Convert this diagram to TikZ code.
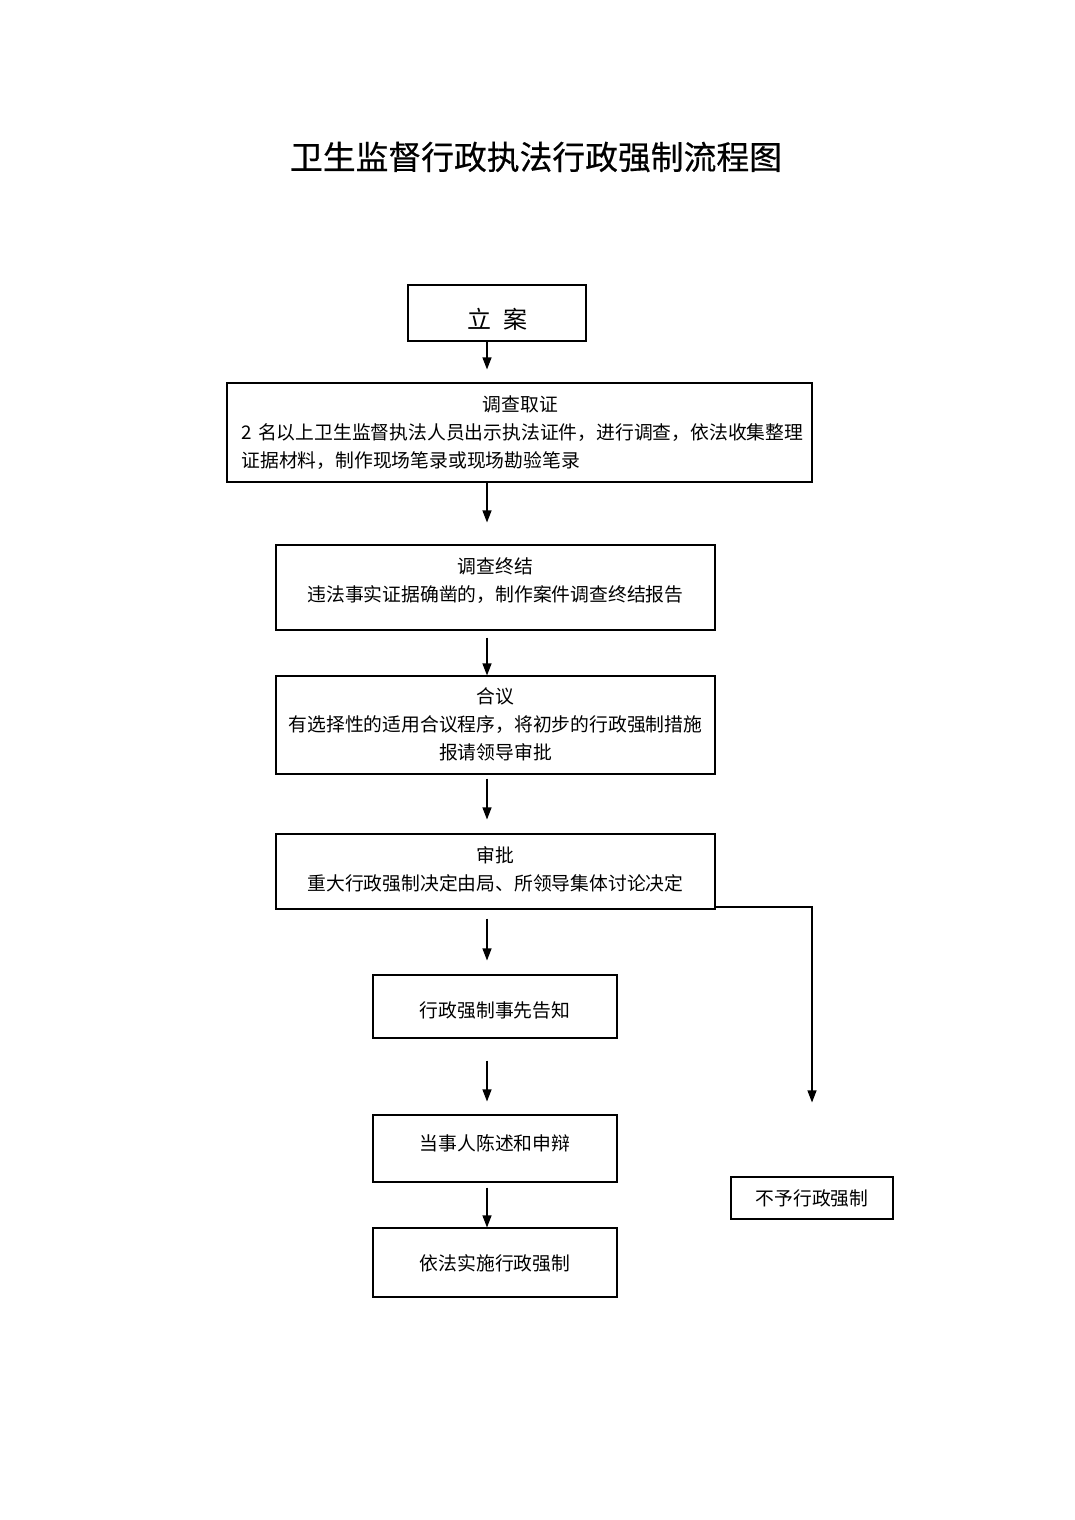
\documentclass[tikz,border=0pt]{standalone}
\usepackage{fontspec}
\setmainfont{Noto Sans CJK SC}
\newfontfamily\titlefont{Noto Sans CJK SC}[FakeBold=0.5]
\usetikzlibrary{arrows.meta}
\begin{document}
\begin{tikzpicture}[x=1pt,y=-1pt,
  box/.style={draw=black, line width=1.1pt, inner sep=0pt},
  txt/.style={inner sep=0pt, font=\fontsize{18.8}{28}\selectfont, align=center},
  arr/.style={draw=black, line width=1.1pt, -{Triangle[length=12pt,width=9pt]}}]
\path (0,0) rectangle (1074,1520);
\coordinate (ax) at (487,0);
\coordinate (ry) at (0,907);
\node[font=\titlefont\fontsize{32.8}{36}\selectfont] (title) at (536,157) {卫生监督行政执法行政强制流程图};
% boxes
\node[box, minimum width=178pt, minimum height=56pt] (la) at (497,313) {};
\node[box, minimum width=585pt, minimum height=99pt] (dc) at (519.5,432.5) {};
\node[box, minimum width=439pt, minimum height=85pt] (zj) at (495.5,587.5) {};
\node[box, minimum width=439pt, minimum height=98pt] (hy) at (495.5,725) {};
\node[box, minimum width=439pt, minimum height=75pt] (sp) at (495.5,871.5) {};
\node[box, minimum width=244pt, minimum height=63pt] (gz) at (495,1006.5) {};
\node[box, minimum width=244pt, minimum height=67pt] (ds) at (495,1148.5) {};
\node[box, minimum width=244pt, minimum height=69pt] (yf) at (495,1262.5) {};
\node[box, minimum width=162pt, minimum height=42pt] (by) at (812,1198) {};
% texts
\node[txt, font=\fontsize{24}{28}\selectfont] (lat) at (497,319) {立\hspace{0.5em}案};
\node[txt, text width=558pt, align=left] (dct) at (520.5,432.5)
  {\makebox[558pt]{调查取证}\\2 名以上卫生监督执法人员出示执法证件，进行调查，依法收集整理\\证据材料，制作现场笔录或现场勘验笔录};
\node[txt] (zjt) at (495.5,580.5) {调查终结\\违法事实证据确凿的，制作案件调查终结报告};
\node[txt] (hyt) at (495.5,724) {合议\\有选择性的适用合议程序，将初步的行政强制措施\\报请领导审批};
\node[txt] (spt) at (495.5,869.5) {审批\\重大行政强制决定由局、所领导集体讨论决定};
\node[txt] (gzt) at (495,1010) {行政强制事先告知};
\node[txt] (dst) at (495,1143) {当事人陈述和申辩};
\node[txt] (yft) at (495,1263) {依法实施行政强制};
\node[txt] (byt) at (812,1198) {不予行政强制};
% connectors
\draw[arr, shorten >=13pt] (la.south -| ax) -- (dc.north -| ax);
\draw[arr, shorten >=22pt] (dc.south -| ax) -- (zj.north -| ax);
\draw[arr, shorten <=7pt] (zj.south -| ax) -- (hy.north -| ax);
\draw[arr, shorten <=4pt, shorten >=14pt] (hy.south -| ax) -- (sp.north -| ax);
\draw[arr, shorten <=9pt, shorten >=14pt] (sp.south -| ax) -- (gz.north -| ax);
\draw[arr, shorten <=22pt, shorten >=13pt] (gz.south -| ax) -- (ds.north -| ax);
\draw[arr, shorten <=5pt] (ds.south -| ax) -- (yf.north -| ax);
\draw[arr, shorten >=74pt] (ry -| sp.east) -| (by.north);
\end{tikzpicture}
\end{document}
